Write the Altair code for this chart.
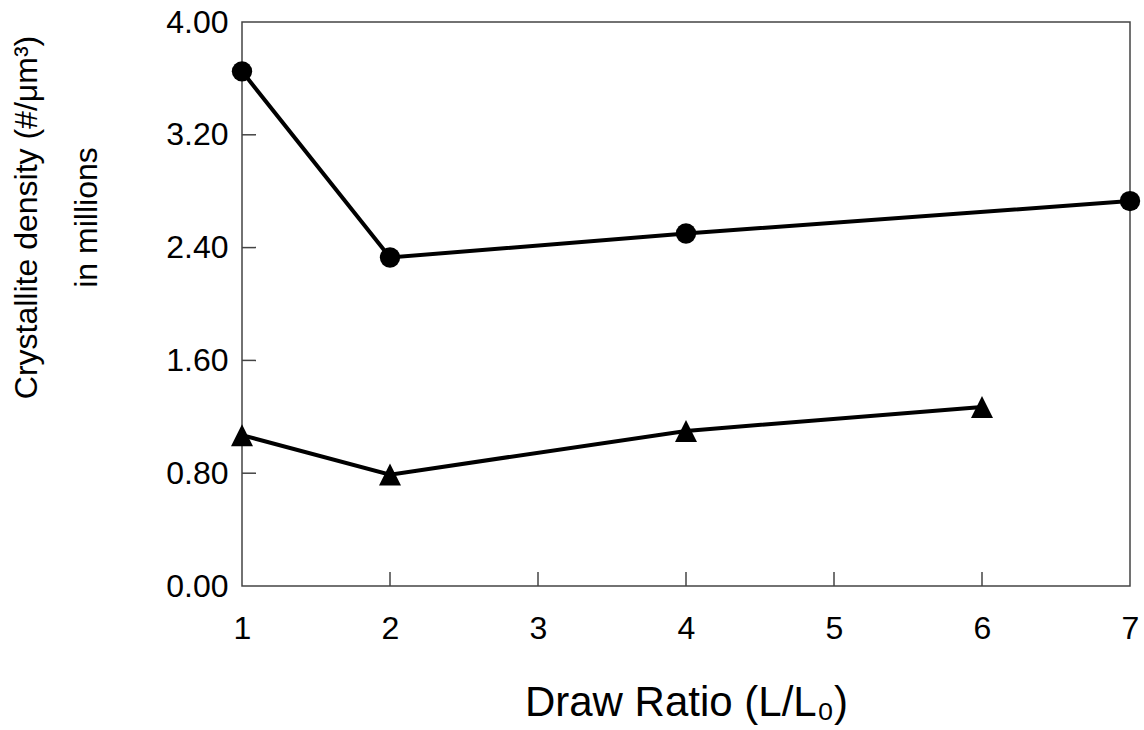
import altair as alt
import pandas as pd

# Data
draw_circle = [1, 2, 4, 7]
dens_circle = [3.65, 2.33, 2.50, 2.73]
draw_tri = [1, 2, 4, 6]
dens_tri = [1.07, 0.79, 1.10, 1.27]

x_ticks = [1, 2, 3, 4, 5, 6, 7]
y_ticks = [0.0, 0.8, 1.6, 2.4, 3.2, 4.0]
x_inner_ticks = [2, 3, 4, 5, 6]
y_inner_ticks = [0.8, 1.6, 2.4, 3.2]

FONT = "Liberation Sans, Arial, Helvetica, DejaVu Sans, sans-serif"
W, H = 888, 564

circ = pd.DataFrame({"x": draw_circle, "y": dens_circle})
tri = pd.DataFrame({"x": draw_tri, "y": dens_tri})

xscale = alt.Scale(domain=[1, 7], nice=False, zero=False)
yscale = alt.Scale(domain=[0, 4], nice=False, zero=True)

xaxis = alt.Axis(
    values=x_ticks, format="d", title="Draw Ratio (L/L\u2080)",
    grid=False, domain=False, ticks=False,
    labelFont=FONT, labelFontSize=32, labelColor="black", labelPadding=27,
    labelFlush=False, labelOverlap=False,
    titleFont=FONT, titleFontSize=42, titleFontWeight="normal", titleColor="black",
    titleY=96, titleBaseline="top",
)
yaxis = alt.Axis(
    values=y_ticks, format=".2f",
    title=["Crystallite density (#/\u03bcm\u00b3)", "in millions"],
    grid=False, domain=False, ticks=False,
    labelFont=FONT, labelFontSize=32, labelColor="black", labelPadding=14,
    labelFlush=False, labelOverlap=False,
    titleFont=FONT, titleFontSize=32, titleFontWeight="normal", titleColor="black",
    titleLineHeight=60, titleAngle=270, titleAlign="center", titleBaseline="bottom",
    titleX=-199, titleY=195,
)

base_c = alt.Chart(circ).encode(
    x=alt.X("x:Q", scale=xscale, axis=xaxis),
    y=alt.Y("y:Q", scale=yscale, axis=yaxis),
)
line_c = base_c.mark_line(color="black", strokeWidth=4)
pts_c = base_c.mark_point(shape="circle", filled=True, color="black", opacity=1, size=415)

base_t = alt.Chart(tri).encode(
    x=alt.X("x:Q", scale=xscale),
    y=alt.Y("y:Q", scale=yscale),
)
line_t = base_t.mark_line(color="black", strokeWidth=4)
pts_t = base_t.mark_point(shape="M0,-1L1,1L-1,1Z", filled=True, color="black", opacity=1, size=484)

yt = alt.Chart(pd.DataFrame({"v": y_inner_ticks})).mark_rule(color="#444", strokeWidth=1.5).encode(
    y=alt.Y("v:Q", scale=yscale), x=alt.value(0), x2=alt.value(14)
)
xt = alt.Chart(pd.DataFrame({"v": x_inner_ticks})).mark_rule(color="#444", strokeWidth=1.5).encode(
    x=alt.X("v:Q", scale=xscale), y=alt.value(H), y2=alt.value(H - 14)
)

chart = alt.layer(yt, xt, line_c, line_t, pts_c, pts_t).properties(
    width=W, height=H,
    autosize=alt.AutoSizeParams(type="none"),
    padding={"left": 242, "top": 22, "right": 14, "bottom": 144},
    background="white",
).configure_view(stroke="#444", strokeWidth=1.5)

chart.save("out.html", embed_options={"renderer": "svg", "actions": False})
